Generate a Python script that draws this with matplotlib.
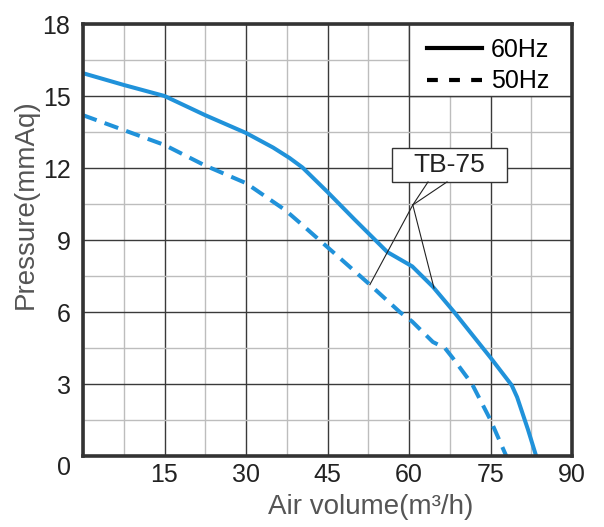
import numpy as np
import matplotlib.pyplot as plt
from matplotlib.lines import Line2D
from matplotlib.patches import Rectangle

# TB-75 fan curves
flow_60 = [0, 7.5, 15, 22.5, 30, 35, 38, 40.4, 45, 50, 56, 60.6, 64.4, 68.3, 75, 78.9, 79.9, 81.9, 83.4]
pres_60 = [15.95, 15.46, 15.0, 14.2, 13.46, 12.85, 12.42, 12.02, 11.0, 9.85, 8.5, 7.9, 7.05, 6.0, 4.1, 2.95, 2.45, 1.1, 0]

flow_50 = [0, 7.5, 15, 22.5, 30, 37.2, 40, 45, 52.5, 58.3, 60.6, 64.4, 66.6, 68, 71.6, 75, 77.9]
pres_50 = [14.2, 13.58, 12.96, 12.1, 11.37, 10.25, 9.7, 8.7, 7.2, 6.0, 5.6, 4.75, 4.5, 4.1, 3.0, 1.5, 0]

x_ticks = [0, 15, 30, 45, 60, 75, 90]
x_labels = ["", "15", "30", "45", "60", "75", "90"]
y_ticks = [0, 3, 6, 9, 12, 15, 18]
y_labels = ["0", "3", "6", "9", "12", "15", "18"]

# callout
model = "TB-75"
box_x, box_y, box_w, box_h = 56.9, 11.42, 21.1, 1.41
leader_top = [63.5, 67.0]
junction = (60.7, 10.46)
tip_50_x, tip_60_x = 52.8, 64.6

blue = "#2092da"
plt.rcParams["font.family"] = ["Liberation Sans", "DejaVu Sans"]

fig = plt.figure(figsize=(6.04, 5.27), dpi=100)
ax = fig.add_axes([83 / 604, 71 / 527, 489 / 604, 432 / 527])

ax.set_xlim(0, 90)
ax.set_ylim(0, 18)
ax.set_xticks(x_ticks)
ax.set_xticklabels(x_labels, fontsize=18, color="#222222")
ax.set_yticks(y_ticks)
ax.set_yticklabels(y_labels, fontsize=18, color="#222222")
ax.set_xticks(np.arange(7.5, 90, 15), minor=True)
ax.set_yticks(np.arange(1.5, 18, 3), minor=True)
ax.tick_params(which="both", length=0)
ax.tick_params(axis="x", pad=5)
ax.tick_params(axis="y", pad=9)
ax.get_yticklabels()[0].set_va("top")

ax.set_axisbelow(True)
ax.grid(which="major", color="#3a3a3a", lw=1.0)
ax.grid(which="minor", color="#bdbdbd", lw=1.0)
for s in ax.spines.values():
    s.set_linewidth(2.6)
    s.set_color("#333333")
    s.set_zorder(5)

# white legend area covering grid
ax.add_patch(Rectangle((60, 15), 30, 3, facecolor="white", edgecolor="#3a3a3a", lw=1.0, zorder=1))

ax.plot(flow_60, pres_60, color=blue, lw=2.9, solid_joinstyle="round", zorder=3)
ax.plot(flow_50, pres_50, color=blue, lw=2.9, ls=(0, (3.6, 2.1)), zorder=3)

# callout box and leaders
ax.add_patch(Rectangle((box_x, box_y), box_w, box_h, facecolor="white", edgecolor="#333333", lw=1.0, zorder=4))
ax.text(box_x + box_w / 2, box_y + box_h / 2, model, ha="center", va="center",
        fontsize=19, color="#222222", zorder=4)
tip_50 = (tip_50_x, np.interp(tip_50_x, flow_50, pres_50))
tip_60 = (tip_60_x, np.interp(tip_60_x, flow_60, pres_60))
for lx in leader_top:
    ax.plot([lx, junction[0]], [box_y, junction[1]], color="#222222", lw=0.8, zorder=4)
for tip in (tip_50, tip_60):
    ax.plot([junction[0], tip[0]], [junction[1], tip[1]], color="#222222", lw=0.8, zorder=4)

handles = [Line2D([], [], color="black", lw=3.0),
           Line2D([], [], color="black", lw=3.0, ls=(0, (2.6, 2.7)))]
ax.legend(handles, ["60Hz", "50Hz"], loc="upper right", bbox_to_anchor=(0.982, 1.0),
          frameon=False, fontsize=18, handlelength=2.2, handletextpad=0.35,
          labelspacing=0.3, borderpad=0.25, borderaxespad=0.3)

ax.set_xlabel("Air volume(m³/h)", fontsize=20, color="#555555")
ax.set_ylabel("Pressure(mmAq)", fontsize=20, color="#555555")
ax.xaxis.set_label_coords(0.589, -0.088)
ax.yaxis.set_label_coords(-0.09, 0.583)

fig.savefig("out.png", dpi=100)
